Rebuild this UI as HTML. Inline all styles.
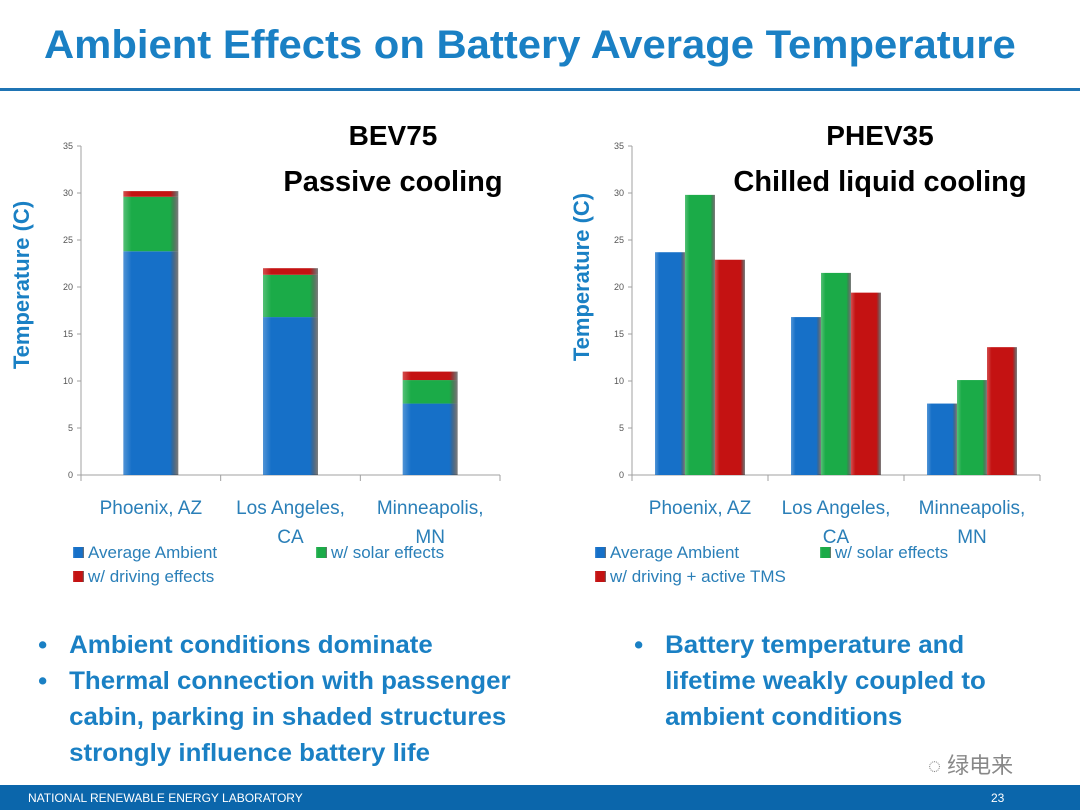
<!DOCTYPE html>
<html><head><meta charset="utf-8">
<style>
body{margin:0;width:1080px;height:810px;position:relative;background:#fff;font-family:"Liberation Sans","Noto Sans CJK SC",sans-serif;overflow:hidden}
.title{position:absolute;left:44px;top:23px;font-size:40px;font-weight:bold;color:#1a80c4;white-space:nowrap;transform:scaleX(1.045);transform-origin:0 0}
.rule{position:absolute;left:0;top:88px;width:1080px;height:3px;background:#1f74b4}
.footer{position:absolute;left:0;top:785px;width:1080px;height:25px;background:#0b66ab;color:#fff;font-size:12px}
.bul{position:absolute;color:#1a80c4;font-weight:bold;font-size:25px;line-height:36px;transform:scaleX(1.035);transform-origin:0 0}
.bul div{position:relative;padding-left:32px}
.bul div.b::before{content:"•";position:absolute;left:2px;color:#1a80c4}
</style></head><body>
<div class="title">Ambient Effects on Battery Average Temperature</div>
<div class="rule"></div>
<svg id="c1" width="1080" height="600" style="position:absolute;left:0;top:0"></svg>
<div class="bul" style="left:36px;top:627px">
<div class="b">Ambient conditions dominate</div>
<div class="b">Thermal connection with passenger<br>cabin, parking in shaded structures<br>strongly influence battery life</div>
</div>
<div class="bul" style="left:632px;top:627px">
<div class="b">Battery temperature and<br>lifetime weakly coupled to<br>ambient conditions</div>
</div>
<div style="position:absolute;left:928px;top:748px;font-size:22px;color:#888">◌ 绿电来</div>
<div class="footer">
<span style="position:absolute;left:28px;top:6px">NATIONAL RENEWABLE ENERGY LABORATORY</span>
<span style="position:absolute;left:991px;top:6px">23</span>
</div>
<script>
const categories=["Phoenix, AZ","Los Angeles, CA","Minneapolis, MN"];
const catLine1=["Phoenix, AZ","Los Angeles,","Minneapolis,"];
const catLine2=["","CA","MN"];
const yTicks=[0,5,10,15,20,25,30,35];
const bevAmbient=[23.8,16.8,7.6];
const bevSolar=[29.6,21.3,10.1];
const bevDriving=[30.2,22.0,11.0];
const phevAmbient=[23.7,16.8,7.6];
const phevSolar=[29.8,21.5,10.1];
const phevDriving=[22.9,19.4,13.6];
const colors=["#1670c8","#1bab48","#c41212"];
const NS="http://www.w3.org/2000/svg";
const svg=document.getElementById("c1");
function el(t,a,p){const e=document.createElementNS(NS,t);for(const k in a)e.setAttribute(k,a[k]);(p||svg).appendChild(e);return e;}
function txt(x,y,s,a){const e=el("text",Object.assign({x:x,y:y},a));e.textContent=s;return e;}
const defs=el("defs",{});
colors.forEach((c,i)=>{const g=el("linearGradient",{id:"g"+i,x1:0,x2:1,y1:0,y2:0},defs);
el("stop",{offset:"0","stop-color":c,"stop-opacity":"0.75"},g);el("stop",{offset:"0.15","stop-color":c},g);el("stop",{offset:"0.85","stop-color":c},g);el("stop",{offset:"1","stop-color":"#000","stop-opacity":"0.5"},g);});
function chart(x0,x1,y0,y1,name,yTitleX,yTitleY,heading1,heading2,hx){
  const y=v=>y0-(v/35)*(y0-y1);
  const cw=(x1-x0)/3;
  const g=el("g",{});
  
  
  el("line",{x1:x0,y1:y1,x2:x0,y2:y0+4,stroke:"#a0a0a0"},g);
  el("line",{x1:x0,y1:y0,x2:x1,y2:y0,stroke:"#a0a0a0"},g);
  yTicks.forEach(t=>{el("line",{x1:x0-4,x2:x0,y1:y(t),y2:y(t),stroke:"#a0a0a0"},g);
    const l=txt(x0-8,y(t)+3,String(t),{"font-size":"9","fill":"#555","text-anchor":"end"});g.appendChild(l);});
  for(let i=0;i<=3;i++)el("line",{x1:x0+cw*i,x2:x0+cw*i,y1:y0,y2:y0+6,stroke:"#a0a0a0"},g);
  categories.forEach((c,i)=>{const cx=x0+cw*(i+0.5);
    const a=txt(cx,y0+39,catLine1[i],{"font-size":"19","fill":"#2a7fb8","text-anchor":"middle"});
    txt(cx,y0+68,catLine2[i],{"font-size":"19","fill":"#2a7fb8","text-anchor":"middle"});});
  const yt=txt(yTitleX,yTitleY,"Temperature (C)",{"font-size":"22","font-weight":"bold","fill":"#1a80c4","text-anchor":"middle",transform:"rotate(-90 "+yTitleX+" "+yTitleY+")"});
  
  txt(hx,145,heading1,{"font-size":"28","font-weight":"bold","fill":"#000","text-anchor":"middle"});
  txt(hx,191,heading2,{"font-size":"29","font-weight":"bold","fill":"#000","text-anchor":"middle"});
  return {y:y,cw:cw,g:g};
}
const A=chart(81,500,475,146,"bev75-chart",29,285,"BEV75","Passive cooling",393);
const stacks=[bevAmbient,bevSolar,bevDriving];
categories.forEach((c,i)=>{const cx=81+A.cw*(i+0.5);let prev=0;
  stacks.forEach((s,k)=>{const r=el("rect",{x:cx-27.5,y:A.y(s[i]),width:55,height:A.y(prev)-A.y(s[i]),fill:"url(#g"+k+")"},A.g);
    
    
    prev=s[i];});});
const B=chart(632,1040,475,146,"phev35-chart",589,277,"PHEV35","Chilled liquid cooling",880);
const groups=[phevAmbient,phevSolar,phevDriving];
categories.forEach((c,i)=>{const cx=632+B.cw*(i+0.5);
  groups.forEach((s,k)=>{const r=el("rect",{x:cx-45+k*30,y:B.y(s[i]),width:30,height:B.y(0)-B.y(s[i]),fill:"url(#g"+k+")"},B.g);
    
    });});
function legend(x,y,label,k,name){const g=el("g",{});
  
  
  el("rect",{x:x,y:y-11,width:11,height:11,fill:"url(#g"+k+")"},g);
  const t=txt(x+15,y,label,{"font-size":"17","fill":"#2a7fb8"});g.appendChild(t);}
legend(73,558,"Average Ambient",0,"legend-entry");
legend(316,558,"w/ solar effects",1,"legend-entry");
legend(73,582,"w/ driving effects",2,"legend-entry");
legend(595,558,"Average Ambient",0,"legend-entry");
legend(820,558,"w/ solar effects",1,"legend-entry");
legend(595,582,"w/ driving + active TMS",2,"legend-entry");
</script>
</body></html>
